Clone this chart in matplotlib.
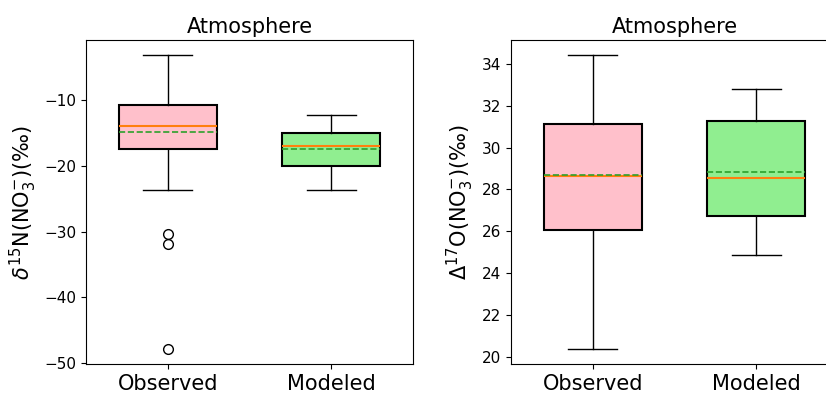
import matplotlib
matplotlib.use("Agg")
import matplotlib.pyplot as plt

categories = ["Observed", "Modeled"]
colors = ["pink", "lightgreen"]

# delta15N stats: whislo, q1, med, mean, q3, whishi, fliers
d15n_obs = dict(whislo=-23.65, q1=-17.45, med=-14.0, mean=-14.85, q3=-10.8, whishi=-3.1,
                fliers=[-30.3, -31.9, -47.9])
d15n_mod = dict(whislo=-23.7, q1=-20.0, med=-17.0, mean=-17.45, q3=-15.0, whishi=-12.2,
                fliers=[])
# Delta17O stats
d17o_obs = dict(whislo=20.36, q1=26.07, med=28.62, mean=28.70, q3=31.11, whishi=34.44,
                fliers=[])
d17o_mod = dict(whislo=24.87, q1=26.75, med=28.56, mean=28.85, q3=31.25, whishi=32.78,
                fliers=[])

panels = [
    ([d15n_obs, d15n_mod], r'$\delta^{15}$N(NO$_3^{-}$)(‰)'),
    ([d17o_obs, d17o_mod], r'$\Delta^{17}$O(NO$_3^{-}$)(‰)'),
]

fig = plt.figure(figsize=(8.26, 3.94), dpi=100)
W, H = 826, 394
rects = [
    [86 / W, 30 / H, 327 / W, 324 / H],
    [511 / W, 30 / H, 327 / W, 324 / H],
]

for rect, (stats, ylabel) in zip(rects, panels):
    ax = fig.add_axes(rect)
    st = []
    for s, lab in zip(stats, categories):
        d = dict(s)
        d["label"] = lab
        st.append(d)
    bp = ax.bxp(st, positions=[1, 2], widths=0.6, patch_artist=True,
                showmeans=True, meanline=True,
                boxprops=dict(linewidth=1.5),
                medianprops=dict(color="C1", linewidth=1.5),
                meanprops=dict(color="C2", linestyle="--", linewidth=1.2),
                flierprops=dict(marker="o", markerfacecolor="none", markeredgecolor="black",
                                markersize=7))
    for patch, c in zip(bp["boxes"], colors):
        patch.set_facecolor(c)
    ax.set_xlim(0.5, 2.5)
    ax.set_title("Atmosphere", fontsize=15, pad=5)
    ax.set_ylabel(ylabel, fontsize=15)
    ax.tick_params(axis="x", labelsize=15)
    ax.tick_params(axis="y", labelsize=11)

fig.savefig("out.png", dpi=100)
